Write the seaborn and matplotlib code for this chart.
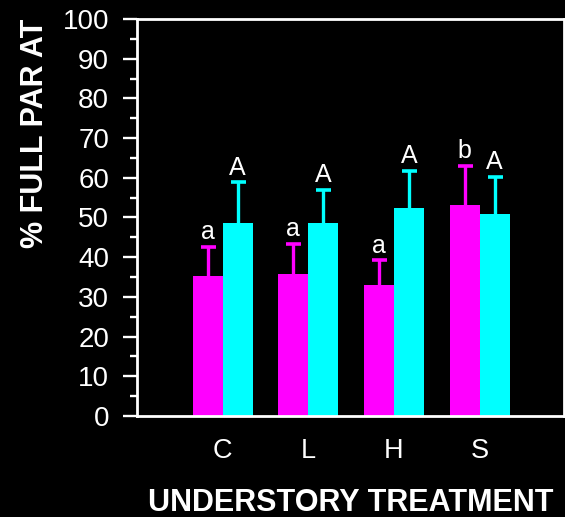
import matplotlib
matplotlib.use("Agg")
import matplotlib.pyplot as plt
from matplotlib.ticker import MultipleLocator
import numpy as np
import pandas as pd
import seaborn as sns

# Understory treatments and the two measured series (mean and upper error)
treatments = ["C", "L", "H", "S"]
groups = ["Group 1", "Group 2"]
group1_mean = [35.3, 35.8, 33.1, 53.1]
group1_err = [7.3, 7.5, 6.1, 9.9]
group2_mean = [48.7, 48.5, 52.4, 50.8]
group2_err = [10.2, 8.5, 9.4, 9.4]
group1_letters = ["a", "a", "a", "b"]
group2_letters = ["A", "A", "A", "A"]
y_ticks = [0, 10, 20, 30, 40, 50, 60, 70, 80, 90, 100]

colors = ["#FF00FF", "#00FFFF"]

df = pd.DataFrame({
    "treatment": treatments * 2,
    "group": [groups[0]] * 4 + [groups[1]] * 4,
    "value": group1_mean + group2_mean,
})

sns.set_theme(style="ticks")
plt.rcParams["font.family"] = ["Liberation Sans", "DejaVu Sans"]
plt.rcParams["text.color"] = "white"

fig = plt.figure(figsize=(5.65, 5.17), dpi=100, facecolor="black")
W, H = 565, 517
ax = fig.add_axes([137 / W, 1 - 416 / H, (563.5 - 137) / W, (416 - 19) / H])
ax.set_facecolor("black")

sns.barplot(data=df, x="treatment", y="value", hue="group", order=treatments,
            hue_order=groups, palette=colors, width=0.7, errorbar=None,
            saturation=1, linewidth=0, legend=False, ax=ax)

means = [group1_mean, group2_mean]
errs = [group1_err, group2_err]
letters = [group1_letters, group2_letters]
bar_containers = list(ax.containers)
for gi, container in enumerate(bar_containers):
    for bar in container.patches:
        xc = bar.get_x() + bar.get_width() / 2
        ci = int(round(xc))
        m = means[gi][ci]
        e = errs[gi][ci]
        eb = ax.errorbar(xc, m, yerr=[[0], [e]], fmt="none", ecolor=colors[gi],
                         elinewidth=2.4, capsize=5.4, capthick=2.6, zorder=3)
        # upper error only: hide the cap sitting on the bar top
        for cap in eb[1]:
            if np.allclose(cap.get_ydata(), m):
                cap.set_visible(False)
        ax.annotate(letters[gi][ci], (xc, m + e), xytext=(0, 5.5),
                    textcoords="offset points", ha="center", va="baseline",
                    fontsize=18, color="white")

ax.set_xlim(-1.0, 3.98)
ax.set_ylim(0, 100)
ax.set_yticks(y_ticks)
ax.yaxis.set_minor_locator(MultipleLocator(5))

for side in ["left", "right", "top", "bottom"]:
    ax.spines[side].set_visible(True)
    ax.spines[side].set_color("white")
    ax.spines[side].set_linewidth(2.0)

ax.tick_params(axis="y", which="major", length=10, width=1.7, color="white",
               labelcolor="white", labelsize=20, pad=10)
ax.tick_params(axis="y", which="minor", length=5, width=1.7, color="white")
ax.tick_params(axis="x", length=0, labelcolor="white", labelsize=19.5, pad=16)

ax.set_xlabel("UNDERSTORY TREATMENT", fontsize=22, fontweight="bold",
              color="white", labelpad=17)
ax.set_ylabel("% FULL PAR AT", fontsize=22, fontweight="bold", color="white",
              loc="top")
ax.yaxis.set_label_coords(-0.203, 1.0)

fig.savefig("out.png", dpi=100, facecolor="black")
